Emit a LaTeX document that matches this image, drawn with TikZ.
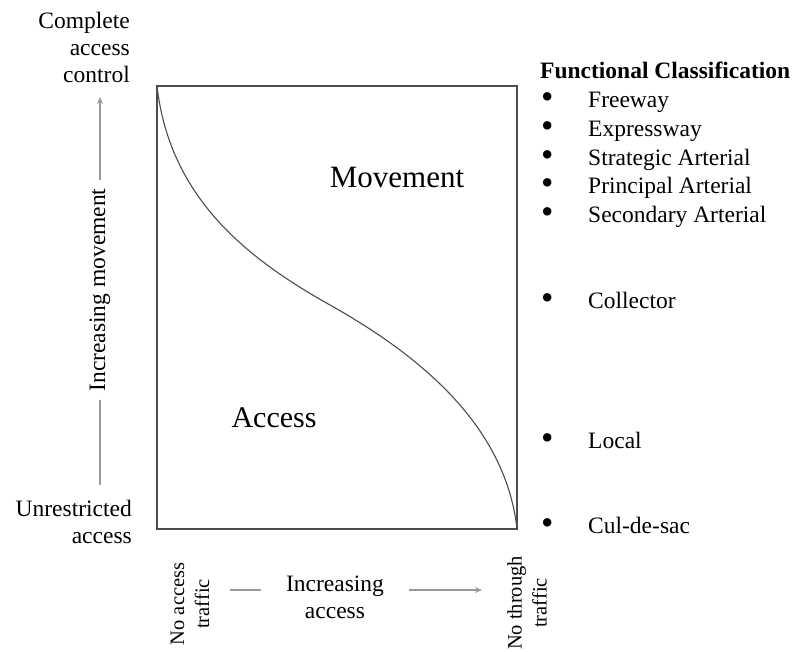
\documentclass[tikz,border=0pt]{standalone}
\usepackage{fontspec}
\setmainfont{Liberation Serif}
\usetikzlibrary{arrows.meta, positioning}

\begin{document}
\begin{tikzpicture}[x=1pt,y=-1pt,>={Stealth[length=7pt,width=6pt]},
        every node/.style={inner sep=0pt},
        txt/.style={font=\fontsize{23.5}{27}\selectfont},
        side/.style={font=\fontsize{20.5}{25}\selectfont, rotate=90, align=center},
        big/.style={font=\fontsize{31}{34}\selectfont, anchor=base},
        head/.style={font=\fontsize{23.5}{27}\selectfont\bfseries, anchor=base west},
        item/.style={txt, anchor=base west,
                     execute at begin node={\makebox[47pt][l]{\smash{\raisebox{-1pt}{\scalebox{1.5}{\textbullet}}}}}},
        frame/.style={draw=black!70, line width=1.3pt},
        axis/.style={draw=black!40, line width=1.6pt}]

    \useasboundingbox (0,0) rectangle (797,651);

    % graph box and curve
    \coordinate (tl) at (157,86);
    \coordinate (br) at (517,529);
    \coordinate (turn) at (330,305);
    \draw[frame] (tl) rectangle (br);
    \draw[frame, line width=1.1pt] (tl) .. controls (170,200) and (250,260) .. (turn)
                                        .. controls (410,350) and (505,420) .. (br);

    \node[big] (movement) at (397,187) {Movement};
    \node[big, font=\fontsize{30}{34}\selectfont] (access) at (274,427) {Access};

    % vertical axis
    \node[txt, align=right, anchor=base east] (control)  at (130,82)  {Complete\\access\\control};
    \node[txt, align=right, anchor=base east] (unrestr)  at (132,543) {Unrestricted\\access};
    \node[txt, rotate=90, inner xsep=8pt]     (incmove)  at (100,290) {Increasing movement};
    \coordinate (movetop) at (100,97);
    \coordinate (movebot) at (100,485);
    \draw[axis,->] (incmove.east) -- (movetop);
    \draw[axis]    (incmove.west) -- (movebot);

    % horizontal axis
    \node[side] (noaccess)  at (190,604) {No access\\traffic};
    \node[side] (nothrough) at (527,603) {No through\\traffic};
    \node[txt, align=center, inner xsep=25pt] (incacc) at (335,597) {Increasing\\access};
    \coordinate (accleft)  at (230,590);
    \coordinate (accright) at (482,590);
    \draw[axis]    (accleft) -- (incacc.west |- accleft);
    \draw[axis,->] (incacc.east |- accright) -- (accright);

    % functional classification
    \node[head] (fclass)     at (540,78)  {Functional Classification};
    \node[item] (freeway)    at (541,107) {Freeway};
    \node[item] (expressway) at (541,136) {Expressway};
    \node[item] (strategic)  at (541,165) {Strategic Arterial};
    \node[item] (principal)  at (541,193) {Principal Arterial};
    \node[item] (secondary)  at (541,222) {Secondary Arterial};
    \node[item] (collector)  at (541,308) {Collector};
    \node[item] (local)      at (541,448) {Local};
    \node[item] (culdesac)   at (541,533) {Cul-de-sac};
\end{tikzpicture}
\end{document}
